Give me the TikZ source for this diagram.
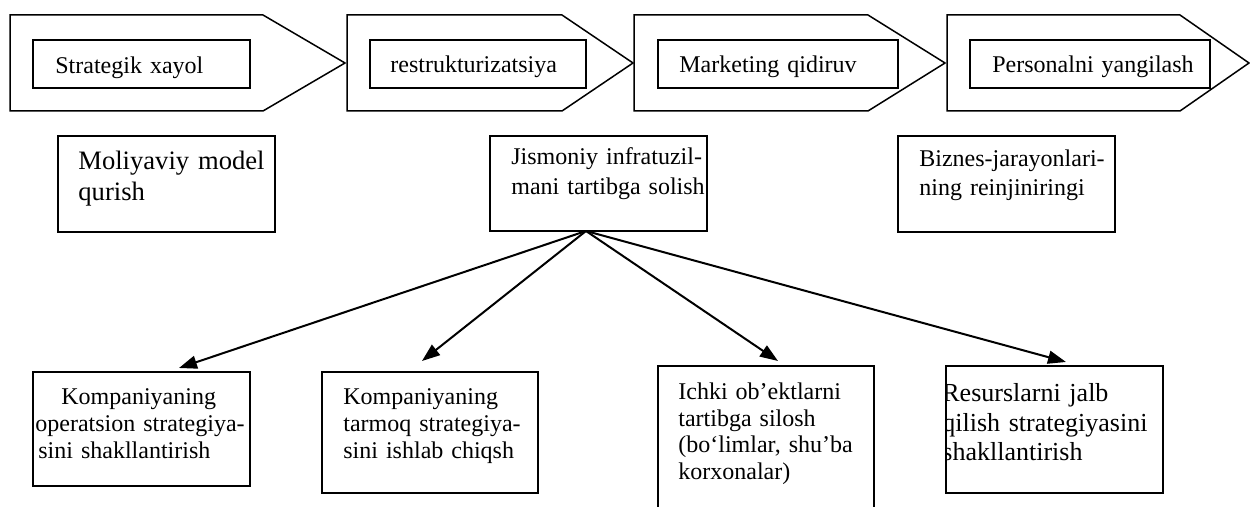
\documentclass[tikz,border=0pt]{standalone}
\usepackage{fontspec}
\setmainfont{Liberation Serif}
\usetikzlibrary{arrows.meta,calc}
\begin{document}
\begin{tikzpicture}[x=0.5pt,y=-0.5pt,
  outline/.style={draw,line width=0.75pt,line join=miter},
  box/.style={draw,line width=0.7pt,inner sep=0pt,outer sep=0pt,anchor=north west,minimum width=108.5pt},
  txt/.style={inner sep=0pt,anchor=base west,text width=120pt,align=left,font=\fontsize{12pt}{13.5pt}\selectfont},
  arr/.style={line width=1pt,-{Triangle[length=9pt,width=6.5pt]}}]
\useasboundingbox (0,0) rectangle (1250,507);
\clip (0,0) rectangle (1250,507);

% stage arrows along the top
\draw[outline] (10,15) -- (263,15) -- (345,63) -- (263,111) -- (10,111) -- cycle;
\draw[outline] (347,15) -- (562,15) -- (633,63) -- (562,111) -- (347,111) -- cycle;
\draw[outline] (634,15) -- (868,15) -- (945,63) -- (868,111) -- (634,111) -- cycle;
\draw[outline] (947,15) -- (1180,15) -- (1249,63) -- (1180,111) -- (947,111) -- cycle;

% stage labels
\node[box,minimum height=24pt] (s1) at (33,40) {};
\node[txt] (s1t) at (55,74) {Strategik xayol};
\node[box,minimum width=108pt,minimum height=24pt] (s2) at (370,40) {};
\node[txt] (s2t) at (390,73) {restrukturizatsiya};
\node[box,minimum width=120pt,minimum height=24pt] (s3) at (658,40) {};
\node[txt] (s3t) at (679,73) {Marketing qidiruv};
\node[box,minimum width=120pt,minimum height=24pt] (s4) at (970,40) {};
\node[txt] (s4t) at (992,73) {Personalni yangilash};

% middle row
\node[box,minimum height=48pt] (mol) at (58,136) {};
\node[txt,font=\fontsize{13.3pt}{15.5pt}\selectfont] (molt) at (78,170) {Moliyaviy model\\qurish};
\node[box,minimum height=47.5pt] (jis) at (490,136) {};
\node[txt,font=\fontsize{12pt}{15pt}\selectfont] (jist) at (511,165) {Jismoniy infratuzil-\\mani tartibga solish};
\node[box,minimum height=48pt] (biz) at (898,136) {};
\node[txt,font=\fontsize{12pt}{14.5pt}\selectfont] (bizt) at (919,167) {Biznes-jarayonlari-\\ning reinjiniringi};

% bottom row
\node[box,minimum height=57pt] (op) at (33,372) {};
\node[txt] (opt) at (35,405) {\hspace*{13pt}Kompaniyaning\\operatsion strategiya-\\\hspace*{1.5pt}sini shakllantirish};
\node[box,minimum width=108pt,minimum height=60.5pt] (tar) at (322,372) {};
\node[txt] (tart) at (343,405) {Kompaniyaning\\tarmoq strategiya-\\sini ishlab chiqsh};
\node[box,minimum width=108pt,minimum height=80pt] (ich) at (658,366) {};
\node[txt,font=\fontsize{12pt}{13.2pt}\selectfont] (icht) at (678,400) {Ichki ob’ektlarni\\tartibga silosh\\(bo‘limlar, shu’ba\\korxonalar)};
\node[box,minimum height=63.5pt] (res) at (946,366) {};
\begin{scope}
  \clip (res.north west) rectangle (res.south east);
  \node[txt,font=\fontsize{13pt}{14.75pt}\selectfont] (rest) at (942,402) {Resurslarni jalb\\qilish strategiyasini\\shakllantirish};
\end{scope}

% connectors fanning out of the infrastructure box
\coordinate (hub) at ($(jis.south)+(-12.5,0)$);
\coordinate (t1) at ($(op.north)+(37.5,-4)$);
\coordinate (t2) at ($(tar.north)+(-8,-11)$);
\coordinate (t3) at ($(ich.north)+(12,-5)$);
\coordinate (t4) at ($(res.north)+(11.5,-4)$);
\draw[arr] (hub) -- (t1);
\draw[arr] (hub) -- (t2);
\draw[arr] (hub) -- (t3);
\draw[arr] (hub) -- (t4);
\end{tikzpicture}
\end{document}
